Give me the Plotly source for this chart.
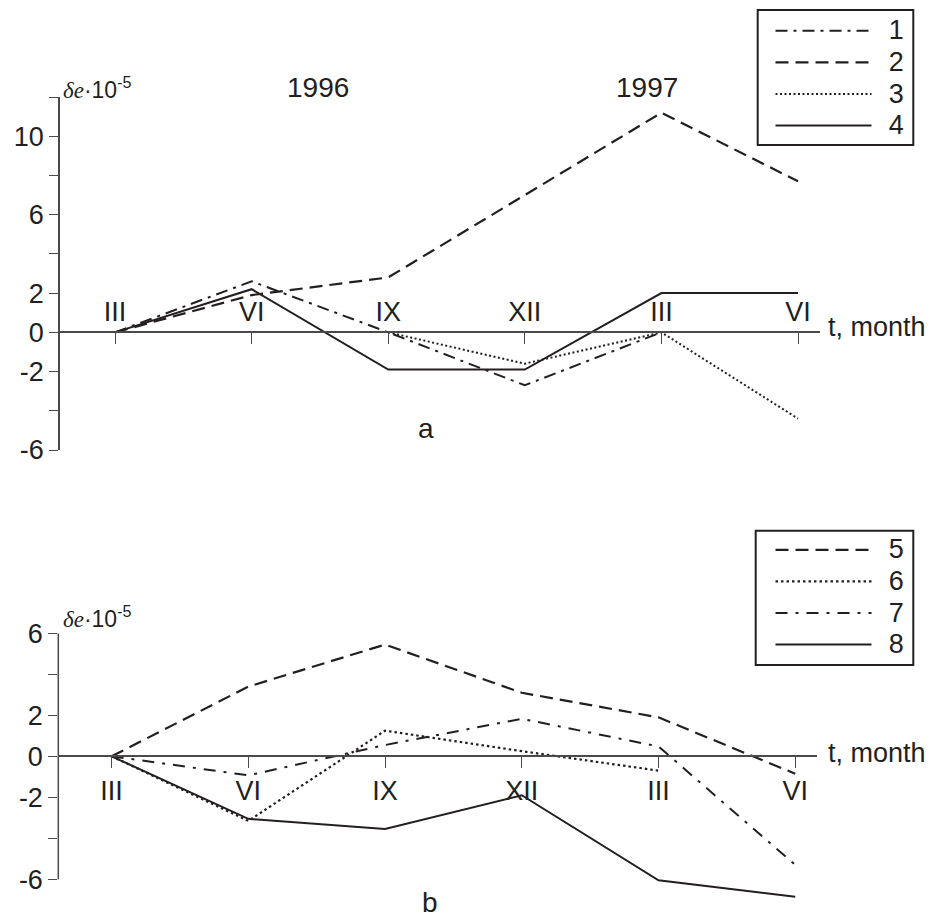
import plotly.graph_objects as go

# ---------------- data ----------------
months = ["III", "VI", "IX", "XII", "III", "VI"]
x_idx = [0, 1, 2, 3, 4, 5]

# panel a
s1 = [0, 2.6, 0, -2.7, 0, None]
s2 = [0, 1.9, 2.8, 7.0, 11.2, 7.7]
s3 = [None, None, 0, -1.6, 0, -4.4]
s4 = [0, 2.2, -1.9, -1.9, 2.0, 2.0]

# panel b
s5 = [0, 3.4, 5.45, 3.1, 1.9, -0.85]
s6 = [0, -3.15, 1.25, 0.25, -0.7, None]
s7 = [0, -0.93, 0.55, 1.83, 0.48, -5.3]
s8 = [0, -3.05, -3.55, -1.9, -6.05, -6.85]

ytick_a = [-6, -2, 0, 2, 6, 10]
yminor_a = [-4, 4, 8, 12]
ytick_b = [-6, -2, 0, 2, 6]
yminor_b = [-4, 4]

# ---------------- style ----------------
W, H = 938, 918
FONT = "Liberation Sans, Arial, sans-serif"
INK = "#231f20"
AX = "#4a4a4a"


def px_x(p):
    return p / W


def px_y(p):
    return 1 - p / H


def legname(n):
    return "\u00a0\u00a0<span style='font-size:27px'>" + n + "</span>"


fig = go.Figure()

top = [
    ("1", s1, "12px,6px,3px,6px", 2),
    ("2", s2, "13px,7px", 2.2),
    ("3", s3, "2px,2.5px", 2),
    ("4", s4, "solid", 2),
]
bottom = [
    ("5", s5, "13px,7px", 2.2),
    ("6", s6, "2.5px,3px", 2.2),
    ("7", s7, "12px,8px,3px,8px", 2),
    ("8", s8, "solid", 2),
]

for name, ys, dash, w in top:
    fig.add_trace(go.Scatter(
        x=x_idx, y=ys, name=legname(name), mode="lines", connectgaps=False,
        line=dict(color=INK, width=w, dash=dash),
        xaxis="x", yaxis="y", legend="legend"))

for name, ys, dash, w in bottom:
    fig.add_trace(go.Scatter(
        x=x_idx, y=ys, name=legname(name), mode="lines", connectgaps=False,
        line=dict(color=INK, width=w, dash=dash),
        xaxis="x2", yaxis="y2", legend="legend2"))

# axes geometry
ya_rng = [-6, 12]
ya_dom = [px_y(450), px_y(97)]
xa_pos = ya_dom[0] + (0 - ya_rng[0]) / (ya_rng[1] - ya_rng[0]) * (ya_dom[1] - ya_dom[0])

yb_rng = [-7.2, 6]
yb_dom = [px_y(903.9), px_y(633.3)]
xb_pos = yb_dom[0] + (0 - yb_rng[0]) / (yb_rng[1] - yb_rng[0]) * (yb_dom[1] - yb_dom[0])

tickfont_x = dict(family=FONT, size=27, color=INK)
tickfont_y = dict(family=FONT, size=27, color=INK)

common_x = dict(showline=True, linecolor=AX, linewidth=1.5, tickcolor=AX,
                tickwidth=1.2, ticklen=11, tickvals=x_idx, ticktext=months,
                showgrid=False, zeroline=False, tickfont=tickfont_x,
                automargin=False, fixedrange=True)
common_y = dict(linecolor=AX, linewidth=1.5, tickcolor=AX,
                tickwidth=1.2, ticklen=9, ticks="outside", showgrid=False,
                zeroline=False, tickfont=tickfont_y, automargin=False,
                fixedrange=True, tickmode="array")

legend_common = dict(xanchor="left", yanchor="top", borderwidth=0,
                     bgcolor="rgba(0,0,0,0)",
                     font=dict(size=22, family=FONT, color=INK),
                     itemwidth=96, tracegroupgap=0)

fig.update_layout(
    width=W, height=H,
    margin=dict(l=0, r=0, t=0, b=0),
    paper_bgcolor="white", plot_bgcolor="white",
    font=dict(family=FONT, color=INK),
    xaxis=dict(domain=[px_x(60), px_x(820)], range=[-0.403, 5.161],
               anchor="free", position=xa_pos, side="top", ticks="inside",
               **common_x),
    yaxis=dict(domain=ya_dom, range=ya_rng, anchor="x", showline=True,
               tickvals=ytick_a, ticktext=[str(v) for v in ytick_a],
               minor=dict(tickmode="array", tickvals=yminor_a, ticks="outside",
                          ticklen=9, tickcolor=AX, tickwidth=1.2, showgrid=False),
               **common_y),
    xaxis2=dict(domain=[px_x(58.3), px_x(816.7)], range=[-0.39, 5.157],
                anchor="free", position=xb_pos, side="bottom", ticks="outside",
                **common_x),
    yaxis2=dict(domain=yb_dom, range=yb_rng, anchor="x2", showline=False,
                tickvals=ytick_b, ticktext=[str(v) for v in ytick_b],
                minor=dict(tickmode="array", tickvals=yminor_b, ticks="outside",
                           ticklen=9, tickcolor=AX, tickwidth=1.2, showgrid=False),
                **common_y),
    legend=dict(x=px_x(770.5), y=px_y(10), **legend_common),
    legend2=dict(x=px_x(770.5), y=px_y(529), **legend_common),
    showlegend=True,
)

# y axis line of panel b (spans -6..6 only)
fig.add_shape(type="line", xref="paper", yref="y2",
              x0=px_x(58.3), x1=px_x(58.3), y0=-6, y1=6,
              line=dict(color=AX, width=1.5))

# legend frames
for (x0, y0, x1, y1) in [(757.7, 10, 913.3, 145), (755.7, 530.7, 913.3, 665)]:
    fig.add_shape(type="rect", xref="paper", yref="paper",
                  x0=px_x(x0), x1=px_x(x1), y0=px_y(y1), y1=px_y(y0),
                  line=dict(color=INK, width=2), fillcolor="rgba(0,0,0,0)")

ylab = ("<span style='font-family:Liberation Serif,Times New Roman,serif'><i>δe</i></span>"
        "·10<sup>-5</sup>")
ann = [
    dict(text=ylab, x=px_x(61), y=px_y(88), xanchor="left", yanchor="middle", size=23),
    dict(text=ylab, x=px_x(61), y=px_y(617), xanchor="left", yanchor="middle", size=23),
    dict(text="1996", x=px_x(318), y=px_y(88), xanchor="center", yanchor="middle", size=28),
    dict(text="1997", x=px_x(647), y=px_y(88), xanchor="center", yanchor="middle", size=28),
    dict(text="t, month", x=px_x(826), y=px_y(327), xanchor="left", yanchor="middle", size=27),
    dict(text="t, month", x=px_x(826), y=px_y(753), xanchor="left", yanchor="middle", size=27),
    dict(text="a", x=px_x(426), y=px_y(428), xanchor="center", yanchor="middle", size=28),
    dict(text="b", x=px_x(430), y=px_y(902), xanchor="center", yanchor="middle", size=28),
]
for a in ann:
    fig.add_annotation(text=a["text"], x=a["x"], y=a["y"], xref="paper", yref="paper",
                       xanchor=a["xanchor"], yanchor=a["yanchor"], showarrow=False,
                       font=dict(family=FONT, size=a["size"], color=INK))

fig.write_html(
    "out.html",
    config={"displayModeBar": False},
    post_script="document.body.style.margin='0';document.body.style.overflow='hidden';",
)
